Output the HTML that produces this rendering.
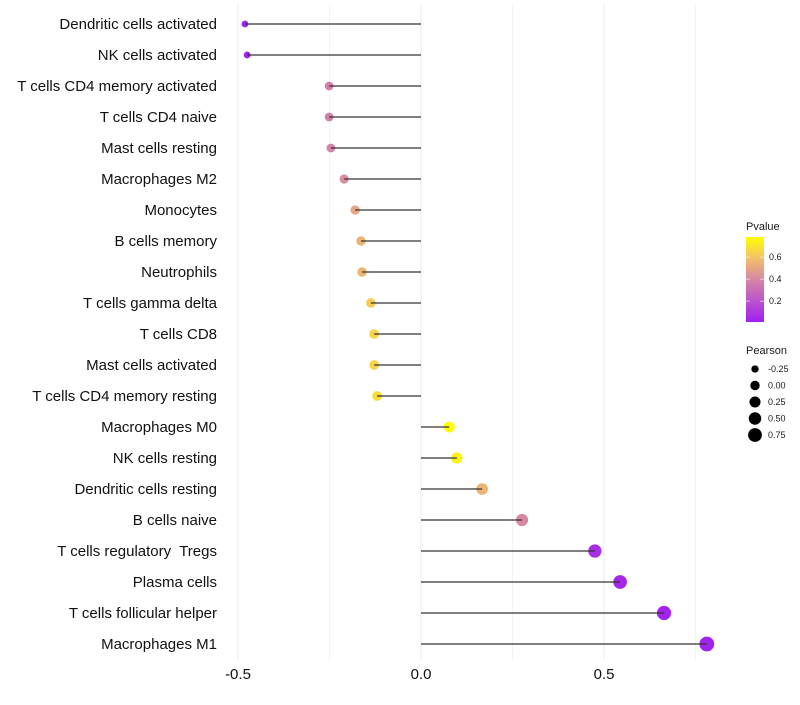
<!DOCTYPE html>
<html><head><meta charset="utf-8"><style>
body{margin:0;background:#fff;font-family:"Liberation Sans",sans-serif}
text{white-space:pre}
</style></head><body>
<svg id="chart" width="800" height="700" xmlns="http://www.w3.org/2000/svg" font-family="Liberation Sans, sans-serif"></svg>
<script>
const categories=["Dendritic cells activated","NK cells activated","T cells CD4 memory activated","T cells CD4 naive","Mast cells resting","Macrophages M2","Monocytes","B cells memory","Neutrophils","T cells gamma delta","T cells CD8","Mast cells activated","T cells CD4 memory resting","Macrophages M0","NK cells resting","Dendritic cells resting","B cells naive","T cells regulatory  Tregs","Plasma cells","T cells follicular helper","Macrophages M1"];
const pearson=[-0.481,-0.475,-0.251,-0.251,-0.246,-0.21,-0.18,-0.164,-0.161,-0.137,-0.128,-0.128,-0.12,0.077,0.098,0.167,0.276,0.475,0.544,0.664,0.781];
const pvalue=[0.01,0.02,0.37,0.37,0.38,0.42,0.5,0.55,0.55,0.62,0.65,0.65,0.67,0.78,0.74,0.55,0.4,0.05,0.03,0.01,0.01];
const xTicks=[-0.5,0,0.5];
const xTickLabels=["-0.5","0.0","0.5"];
const pLegendTicks=[0.2,0.4,0.6];
const sizeLegend=[-0.25,0,0.25,0.5,0.75];
const sizeLegendLabels=["-0.25","0.00","0.25","0.50","0.75"];

const NS="http://www.w3.org/2000/svg";
const svg=document.getElementById('chart');
const x=v=>421+v*366;
const y=i=>24+i*31;
const r=v=>Math.sqrt(Math.max(4,28+34*v));
const rl=v=>Math.sqrt(Math.max(4,22+34*v));
const stops=[[0,[160,32,240]],[0.4,[214,136,164]],[0.6,[245,196,100]],[0.78,[255,255,0]]];
function col(p){
  for(let k=0;k<stops.length-1;k++){
    const [a,ca]=stops[k],[b,cb]=stops[k+1];
    if(p<=b||k==stops.length-2){const t=Math.min(1,Math.max(0,(p-a)/(b-a)));
      return 'rgb('+ca.map((c,j)=>Math.round(c+(cb[j]-c)*t)).join(',')+')';}
  }
}
function el(tag,attrs,parent){const e=document.createElementNS(NS,tag);for(const k in attrs)e.setAttribute(k,attrs[k]);(parent||svg).appendChild(e);return e;}

[-0.5,-0.25,0,0.25,0.5,0.75].forEach(v=>{
  const g=el('line',{x1:x(v),x2:x(v),y1:5,y2:660,stroke:'#ebebeb','stroke-width':v*4%2==0?1:0.6});
  
  
});
categories.forEach((c,i)=>{
  const t=el('text',{x:217,y:y(i)+5,'text-anchor':'end','font-size':15,fill:'#111'});
  t.textContent=c;
  
  
  const pt=el('circle',{cx:x(pearson[i]),cy:y(i),r:r(pearson[i]),fill:col(pvalue[i])});
  
  
  const ln=el('line',{x1:x(0),x2:x(pearson[i]),y1:y(i),y2:y(i),stroke:'#333','stroke-width':1.2});
  
  
});
xTicks.forEach((v,i)=>{
  const t=el('text',{x:x(v),y:679,'text-anchor':'middle','font-size':15,fill:'#111'});
  t.textContent=xTickLabels[i];
  
  
});
const lt=el('text',{x:746,y:230,'font-size':11,fill:'#1a1a1a'});lt.textContent='Pvalue';


const defs=el('defs',{});
const lg=el('linearGradient',{id:'pg',x1:0,y1:1,x2:0,y2:0},defs);
const py=p=>322-(p-0.01)*110;
stops.forEach(s=>el('stop',{offset:((s[0]-0.01)/0.77),'stop-color':col(s[0])},lg));
const bar=el('rect',{x:746,y:237,width:18,height:85,fill:'url(#pg)'});


pLegendTicks.forEach(p=>{
  el('line',{x1:746,x2:750,y1:py(p),y2:py(p),stroke:'#fff','stroke-width':0.6});
  el('line',{x1:760,x2:764,y1:py(p),y2:py(p),stroke:'#fff','stroke-width':0.6});
  const t=el('text',{x:769,y:py(p)+3,'font-size':9,fill:'#1a1a1a'});t.textContent=p.toFixed(1);
  
  
});
const st=el('text',{x:746,y:354,'font-size':11,fill:'#1a1a1a'});st.textContent='Pearson';


sizeLegend.forEach((v,i)=>{
  const cy=369+i*16.5;
  const c=el('circle',{cx:755,cy:cy,r:rl(v),fill:'#000'});
  
  
  const t=el('text',{x:768,y:cy+3,'font-size':9,fill:'#1a1a1a'});t.textContent=sizeLegendLabels[i];
  
  
});
</script>
</body></html>
